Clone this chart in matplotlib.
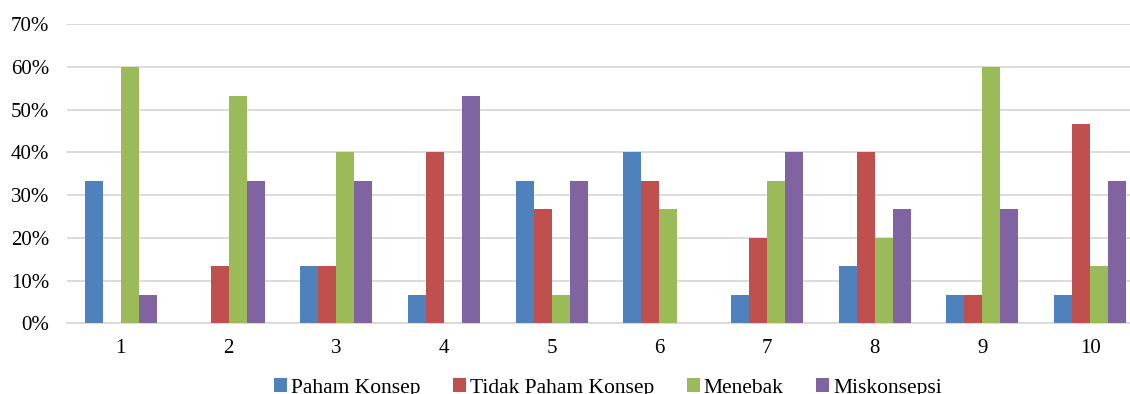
import matplotlib
matplotlib.use("Agg")
import matplotlib.pyplot as plt
import numpy as np
from matplotlib.patches import Patch

plt.rcParams['font.family'] = ['Liberation Serif', 'DejaVu Serif']

categories = ['1', '2', '3', '4', '5', '6', '7', '8', '9', '10']
series_names = ['Paham Konsep', 'Tidak Paham Konsep', 'Menebak', 'Miskonsepsi']
paham = [33.33, 0, 13.33, 6.67, 33.33, 40.0, 6.67, 13.33, 6.67, 6.67]
tidak_paham = [0, 13.33, 13.33, 40.0, 26.67, 33.33, 20.0, 40.0, 6.67, 46.67]
menebak = [60.0, 53.33, 40.0, 0, 6.67, 26.67, 33.33, 20.0, 60.0, 13.33]
miskonsepsi = [6.67, 33.33, 33.33, 53.33, 33.33, 0, 40.0, 26.67, 26.67, 33.33]
y_ticks = [0, 10, 20, 30, 40, 50, 60, 70]

colors = ['#4F81BD', '#C0504D', '#9BBB59', '#8064A2']
series = [paham, tidak_paham, menebak, miskonsepsi]

W, H = 1130, 394
fig = plt.figure(figsize=(W / 100, H / 100), dpi=100)
left_px, right_px = 67, 1144
bottom_px, top_px = 323.3, 24.3
ax = fig.add_axes([left_px / W, (H - bottom_px) / H,
                   (right_px - left_px) / W, (bottom_px - top_px) / H])

x = np.arange(len(categories))
bw = 0.167
for i, (vals, c) in enumerate(zip(series, colors)):
    ax.bar(x + (i - 1.5) * bw, vals, width=bw, color=c, zorder=3)

ax.set_xlim(-0.5, len(categories) - 0.5)
ax.set_ylim(0, 70)
ax.set_yticks(y_ticks)
ax.set_yticklabels([f'{t}%' for t in y_ticks])
ax.set_xticks(x)
ax.set_xticklabels(categories)
ax.yaxis.grid(True, color='#d9d9d9', linewidth=1.3, zorder=0)
ax.set_axisbelow(True)
for s in ['top', 'right', 'left']:
    ax.spines[s].set_visible(False)
ax.spines['bottom'].set_color('#d9d9d9')
ax.spines['bottom'].set_linewidth(1.3)
ax.tick_params(axis='y', length=0, pad=13, labelsize=15)
ax.tick_params(axis='x', length=0, pad=11, labelsize=15)

handles = [Patch(facecolor=c, edgecolor='none') for c in colors]
fig.legend(handles, series_names, loc='center', ncol=4,
           bbox_to_anchor=(608 / W, (H - 388) / H), frameon=False,
           fontsize=15.5, handlelength=0.6, handleheight=0.6,
           handletextpad=0.2, columnspacing=1.5)

fig.savefig('out.png', dpi=100)
